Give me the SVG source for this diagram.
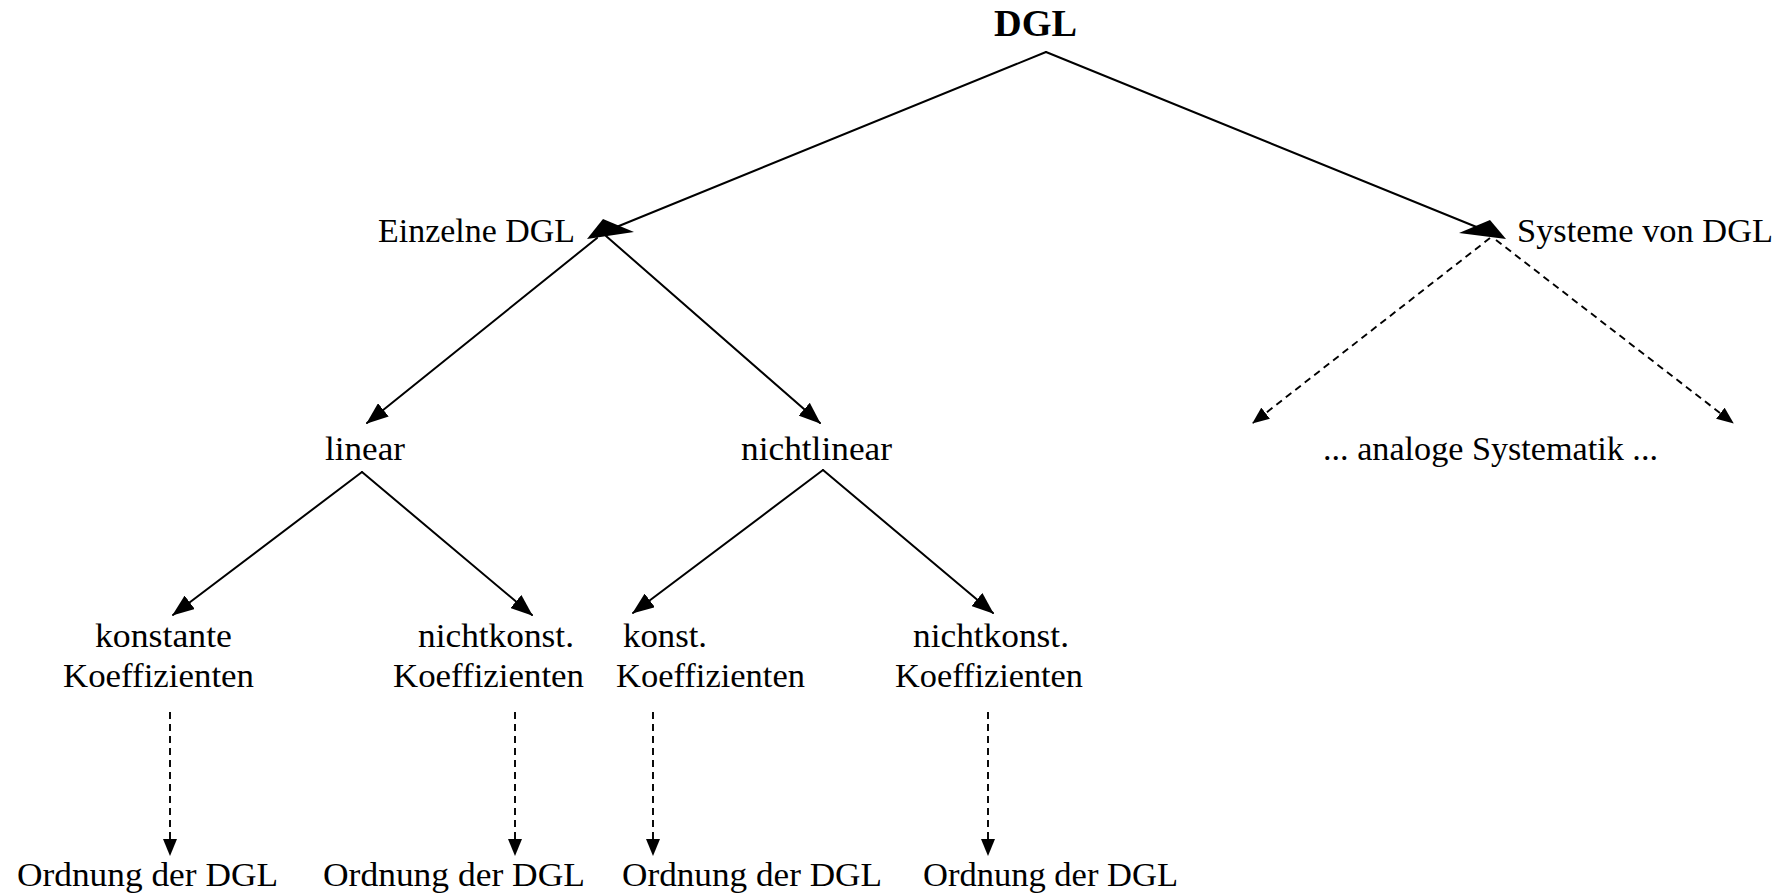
<svg xmlns="http://www.w3.org/2000/svg" width="1782" height="895" viewBox="0 0 1782 895">
<style>
text{font-family:"Liberation Serif","Times New Roman",serif;font-size:33px;fill:#000}
.b{font-weight:bold;font-size:38px}
.s{stroke:#000;stroke-width:2;fill:none;stroke-linecap:round}
.d{stroke:#000;stroke-width:1.9;fill:none;stroke-dasharray:7 5}
.h{fill:#000;stroke:none}
</style>
<defs>
<marker id="a" markerUnits="userSpaceOnUse" viewBox="0 0 22 17" refX="21" refY="8.5" markerWidth="22" markerHeight="17" orient="auto">
<path d="M0,0 L22,8.5 L0,17 z" fill="#000"/>
</marker>
<marker id="ad" markerUnits="userSpaceOnUse" viewBox="0 0 17 14" refX="16" refY="7" markerWidth="17" markerHeight="14" orient="auto">
<path d="M0,0 L17,7 L0,14 z" fill="#000"/>
</marker>
</defs>
<rect width="1782" height="895" fill="#fff"/>
<g id="connectors">
<line class="s" x1="1046" y1="52" x2="614" y2="228"/>
<polygon class="h" points="587,239 603,219 634,232"/>
<line class="s" x1="1046" y1="52" x2="1479" y2="228"/>
<polygon class="h" points="1506,239 1490,220 1459,233"/>
<line class="s" x1="597" y1="238" x2="367" y2="423" marker-end="url(#a)"/>
<line class="s" x1="606" y1="236" x2="820" y2="423" marker-end="url(#a)"/>
<line class="d" x1="1490" y1="238" x2="1253" y2="423" marker-end="url(#ad)"/>
<line class="d" x1="1496" y1="240" x2="1733" y2="423" marker-end="url(#ad)"/>
<line class="s" x1="362" y1="472" x2="173" y2="615" marker-end="url(#a)"/>
<line class="s" x1="362" y1="472" x2="532" y2="615" marker-end="url(#a)"/>
<line class="s" x1="823" y1="470" x2="633" y2="613" marker-end="url(#a)"/>
<line class="s" x1="823" y1="470" x2="993" y2="613" marker-end="url(#a)"/>
<line class="d" x1="170" y1="712" x2="170" y2="855" marker-end="url(#ad)"/>
<line class="d" x1="515" y1="712" x2="515" y2="855" marker-end="url(#ad)"/>
<line class="d" x1="653" y1="712" x2="653" y2="855" marker-end="url(#ad)"/>
<line class="d" x1="988" y1="712" x2="988" y2="855" marker-end="url(#ad)"/>
</g>
<g id="n-dgl"><text class="b" x="994" y="36" textLength="83" lengthAdjust="spacingAndGlyphs">DGL</text></g>
<g id="n-einzelne"><text x="378" y="242" textLength="197" lengthAdjust="spacingAndGlyphs">Einzelne DGL</text></g>
<g id="n-systeme"><text x="1517" y="242" textLength="256" lengthAdjust="spacingAndGlyphs">Systeme von DGL</text></g>
<g id="n-linear"><text x="325" y="460" textLength="80" lengthAdjust="spacingAndGlyphs">linear</text></g>
<g id="n-nichtlinear"><text x="741" y="460" textLength="151" lengthAdjust="spacingAndGlyphs">nichtlinear</text></g>
<g id="n-analog"><text x="1323" y="460" textLength="335" lengthAdjust="spacingAndGlyphs">... analoge Systematik ...</text></g>
<g id="n-konstante">
<text x="95" y="647" textLength="137" lengthAdjust="spacingAndGlyphs">konstante</text>
<text x="63" y="687" textLength="191" lengthAdjust="spacingAndGlyphs">Koeffizienten</text>
</g>
<g id="n-nichtkonst1">
<text x="418" y="647" textLength="156" lengthAdjust="spacingAndGlyphs">nichtkonst.</text>
<text x="393" y="687" textLength="191" lengthAdjust="spacingAndGlyphs">Koeffizienten</text>
</g>
<g id="n-konst">
<text x="623" y="647" textLength="84" lengthAdjust="spacingAndGlyphs">konst.</text>
<text x="616" y="687" textLength="189" lengthAdjust="spacingAndGlyphs">Koeffizienten</text>
</g>
<g id="n-nichtkonst2">
<text x="913" y="647" textLength="156" lengthAdjust="spacingAndGlyphs">nichtkonst.</text>
<text x="895" y="687" textLength="188" lengthAdjust="spacingAndGlyphs">Koeffizienten</text>
</g>
<g id="n-ord1"><text x="17" y="886" textLength="261" lengthAdjust="spacingAndGlyphs">Ordnung der DGL</text></g>
<g id="n-ord2"><text x="323" y="886" textLength="262" lengthAdjust="spacingAndGlyphs">Ordnung der DGL</text></g>
<g id="n-ord3"><text x="622" y="886" textLength="260" lengthAdjust="spacingAndGlyphs">Ordnung der DGL</text></g>
<g id="n-ord4"><text x="923" y="886" textLength="255" lengthAdjust="spacingAndGlyphs">Ordnung der DGL</text></g>
</svg>
